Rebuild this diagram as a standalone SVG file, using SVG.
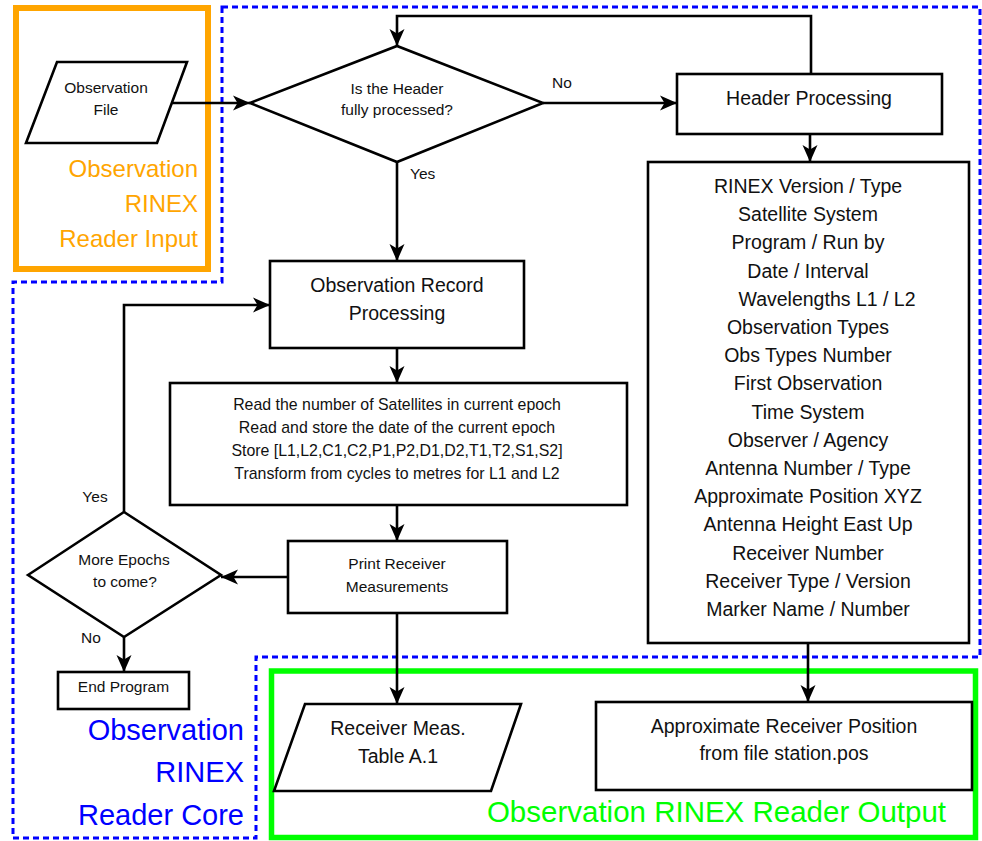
<svg xmlns="http://www.w3.org/2000/svg" width="982" height="841" viewBox="0 0 982 841">
  <style>
    text { font-family: "Liberation Sans", Arial, Helvetica, sans-serif; fill: #111; }
    .shape { fill: #fff; stroke: #000; stroke-width: 2.6; }
    .conn { fill: none; stroke: #000; stroke-width: 2.6; marker-end: url(#arrow); }
    .c { text-anchor: middle; }
    .r { text-anchor: end; }
    .s155 { font-size: 15.5px; }
    .s16 { font-size: 15.9px; }
    .s195 { font-size: 19.5px; }
  </style>
  <defs>
    <marker id="arrow" markerUnits="userSpaceOnUse" markerWidth="18" markerHeight="16" viewBox="0 0 18 16" refX="17" refY="8" orient="auto">
      <path d="M0,0.5 L17,8 L0,15.5 L4.5,8 Z" fill="#000"/>
    </marker>
  </defs>

  <rect width="982" height="841" fill="#fff"/>

  <!-- region frames -->
  <g id="core-region">
    <polygon points="222,7 980,7 980,657 256,657 256,838 13,838 13,282 222,282" fill="none" stroke="#0000ff" stroke-width="3" stroke-dasharray="6 4"/>
    <text class="r" x="244" y="740" font-size="29" style="fill:#0000ff">Observation</text>
    <text class="r" x="244" y="782" font-size="29" style="fill:#0000ff">RINEX</text>
    <text class="r" x="244" y="825" font-size="29" style="fill:#0000ff">Reader Core</text>
  </g>
  <g id="input-region">
    <rect x="16" y="8" width="192" height="261" fill="none" stroke="#ffa500" stroke-width="6"/>
    <text class="r" x="198" y="177" font-size="24" style="fill:#ffa500">Observation</text>
    <text class="r" x="198" y="212" font-size="24" style="fill:#ffa500">RINEX</text>
    <text class="r" x="198" y="247" font-size="24" style="fill:#ffa500">Reader Input</text>
  </g>
  <g id="output-region">
    <rect x="271.5" y="671" width="704" height="166.5" fill="none" stroke="#00ff00" stroke-width="5.5"/>
    <text class="r" x="946" y="822" font-size="29.5" style="fill:#00ff00">Observation RINEX Reader Output</text>
  </g>

  <!-- connectors -->
  <g id="connectors">
    <path class="conn" d="M172,103 L250,103"/>
    <path class="conn" d="M543,103 L677,103"/>
    <path class="conn" d="M811,74 L811,16 L397,16 L397,46"/>
    <path class="conn" d="M810,134 L810,162"/>
    <path class="conn" d="M397,162 L397,261"/>
    <path class="conn" d="M397,348 L397,383"/>
    <path class="conn" d="M397,505 L397,541"/>
    <path class="conn" d="M288,577 L221,577"/>
    <path class="conn" d="M124,512 L124,305 L270,305"/>
    <path class="conn" d="M124,637 L124,672"/>
    <path class="conn" d="M397,613 L397,704"/>
    <path class="conn" d="M808,643 L808,702"/>
    <text class="s155" x="552" y="88">No</text>
    <text class="s155" x="410" y="179">Yes</text>
    <text class="s155 c" x="95" y="502">Yes</text>
    <text class="s155 c" x="91" y="643">No</text>
  </g>

  <!-- nodes -->
  <g id="observation-file">
    <polygon class="shape" points="57,62 187,62 157,143 26,143"/>
    <text class="s155 c" x="106" y="93">Observation</text>
    <text class="s155 c" x="106" y="115">File</text>
  </g>

  <g id="header-check">
    <polygon class="shape" points="250,103 397,46 543,103 397,162"/>
    <text class="s155 c" x="397" y="94">Is the Header</text>
    <text class="s155 c" x="397" y="115">fully processed?</text>
  </g>

  <g id="header-processing">
    <rect class="shape" x="677" y="74" width="265" height="60"/>
    <text class="s195 c" x="809" y="105">Header Processing</text>
  </g>

  <g id="header-fields">
    <rect class="shape" x="648" y="162" width="321" height="481"/>
    <text class="s195 c" x="808" y="193">RINEX Version / Type</text>
    <text class="s195 c" x="808" y="221.2">Satellite System</text>
    <text class="s195 c" x="808" y="249.4">Program / Run by</text>
    <text class="s195 c" x="808" y="277.6">Date / Interval</text>
    <text class="s195 c" x="827" y="305.8">Wavelengths L1 / L2</text>
    <text class="s195 c" x="808" y="334">Observation Types</text>
    <text class="s195 c" x="808" y="362.2">Obs Types Number</text>
    <text class="s195 c" x="808" y="390.4">First Observation</text>
    <text class="s195 c" x="808" y="418.6">Time System</text>
    <text class="s195 c" x="808" y="446.8">Observer / Agency</text>
    <text class="s195 c" x="808" y="475">Antenna Number / Type</text>
    <text class="s195 c" x="808" y="503.2">Approximate Position XYZ</text>
    <text class="s195 c" x="808" y="531.4">Antenna Height East Up</text>
    <text class="s195 c" x="808" y="559.6">Receiver Number</text>
    <text class="s195 c" x="808" y="587.8">Receiver Type / Version</text>
    <text class="s195 c" x="808" y="616">Marker Name / Number</text>
  </g>

  <g id="observation-record">
    <rect class="shape" x="270" y="261" width="254" height="87"/>
    <text class="s195 c" x="397" y="292">Observation Record</text>
    <text class="s195 c" x="397" y="320">Processing</text>
  </g>

  <g id="epoch-reading">
    <rect class="shape" x="170" y="383" width="457" height="122"/>
    <text class="s16 c" x="397" y="410">Read the number of Satellites in current epoch</text>
    <text class="s16 c" x="397" y="433">Read and store the date of the current epoch</text>
    <text class="s16 c" x="397" y="456">Store [L1,L2,C1,C2,P1,P2,D1,D2,T1,T2,S1,S2]</text>
    <text class="s16 c" x="397" y="479">Transform from cycles to metres for L1 and L2</text>
  </g>

  <g id="print-measurements">
    <rect class="shape" x="288" y="541" width="219" height="72"/>
    <text class="s155 c" x="397" y="569">Print Receiver</text>
    <text class="s155 c" x="397" y="592">Measurements</text>
  </g>

  <g id="more-epochs">
    <polygon class="shape" points="28,575 124,512 221,575 124,637"/>
    <text class="s155 c" x="124" y="565">More Epochs</text>
    <text class="s155 c" x="125" y="587">to come?</text>
  </g>

  <g id="end-program">
    <rect class="shape" x="58" y="672" width="131" height="37"/>
    <text class="s155 c" x="123.5" y="692">End Program</text>
  </g>

  <g id="receiver-table">
    <polygon class="shape" points="305,704 521,704 491,791 274,791"/>
    <text class="s195 c" x="398" y="735">Receiver Meas.</text>
    <text class="s195 c" x="398" y="763">Table A.1</text>
  </g>

  <g id="receiver-position">
    <rect class="shape" x="596" y="702" width="376" height="88"/>
    <text class="s195 c" x="784" y="733">Approximate Receiver Position</text>
    <text class="s195 c" x="784" y="760">from file station.pos</text>
  </g>
</svg>
